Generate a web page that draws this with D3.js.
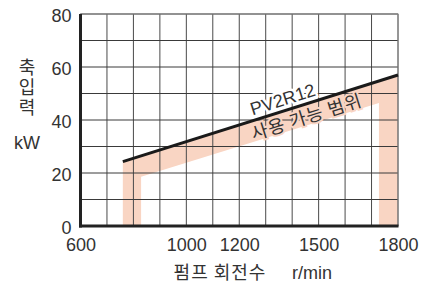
<!DOCTYPE html>
<html>
<head>
<meta charset="utf-8">
<script src="https://cdn.jsdelivr.net/npm/d3@7"></script>
<style>
  body { margin: 0; background: #fff; }
  svg { display: block; }
  .tick-label { font-family: "Liberation Sans", Arial, sans-serif; font-size: 18px; fill: #333; }
  .kr { font-family: "Noto Sans CJK KR", sans-serif; fill: #333; }
</style>
</head>
<body>
<div id="chart"></div>
<script>
// axis ranges and tick labels
const rpmDomain = [600, 1800];
const kwDomain = [0, 80];
const xTickValues = [600, 1000, 1200, 1500, 1800];
const yTickValues = [0, 20, 40, 60, 80];

// PV2R12 max power line (r/min, kW)
const lineRpm = [760, 1800];
const lineKw = [24.3, 57];

// usable range band (outline, r/min and kW)
const bandRpm = [760, 760, 1800, 1800, 1728, 1728, 829, 829];
const bandKw = [0, 24.3, 57, 0, 0, 46.4, 18.6, 0];

const width = 423;
const height = 285;
const marginTop = 14;
const marginRight = 25;
const marginBottom = 59;
const marginLeft = 80.5;

const x = d3.scaleLinear().domain(rpmDomain).range([marginLeft, width - marginRight]);
const y = d3.scaleLinear().domain(kwDomain).range([height - marginBottom, marginTop]);

const svg = d3
  .select("#chart")
  .append("svg")
  .attr("width", width)
  .attr("height", height)
  .attr("viewBox", [0, 0, width, height]);

// pink band
const band = bandRpm.map((r, i) => [x(r), y(bandKw[i])]);
svg
  .append("path")
  .attr("d", d3.line()(band) + "Z")
  .attr("fill", "#f9d5c3");

// grid
const gridX = d3.range(600, 1801, 100);
const gridY = d3.range(0, 81, 10);
svg
  .append("g")
  .attr("stroke", "#4a4a4a")
  .attr("stroke-width", 1)
  .selectAll("line")
  .data(gridX)
  .join("line")
  .attr("x1", (d) => x(d))
  .attr("x2", (d) => x(d))
  .attr("y1", y(80))
  .attr("y2", y(0));
svg
  .append("g")
  .attr("stroke", "#3a3a3a")
  .attr("stroke-width", 1)
  .selectAll("line")
  .data(gridY)
  .join("line")
  .attr("x1", x(600))
  .attr("x2", x(1800))
  .attr("y1", (d) => y(d))
  .attr("y2", (d) => y(d));

// border (top / right lighter)
svg
  .append("rect")
  .attr("x", x(600))
  .attr("y", y(80))
  .attr("width", x(1800) - x(600))
  .attr("height", y(0) - y(80))
  .attr("fill", "none")
  .attr("stroke", "#888")
  .attr("stroke-width", 1);

// left and bottom axes (thick)
svg
  .append("line")
  .attr("x1", x(600))
  .attr("x2", x(600))
  .attr("y1", y(80))
  .attr("y2", y(0) + 1.5)
  .attr("stroke", "#222")
  .attr("stroke-width", 3);
svg
  .append("line")
  .attr("x1", x(600) - 1.5)
  .attr("x2", x(1800) + 0.5)
  .attr("y1", y(0))
  .attr("y2", y(0))
  .attr("stroke", "#222")
  .attr("stroke-width", 3);

// tick labels via axes
svg
  .append("g")
  .attr("transform", `translate(${x(600)},0)`)
  .call(d3.axisLeft(y).tickValues(yTickValues).tickFormat(d3.format("d")).tickSize(0).tickPadding(9))
  .call((g) => g.select(".domain").remove())
  .call((g) =>
    g.selectAll("text").attr("class", "tick-label").attr("fill", null).attr("dy", "0.42em")
  );

svg
  .append("g")
  .attr("transform", `translate(0,${y(0)})`)
  .call(d3.axisBottom(x).tickValues(xTickValues).tickFormat(d3.format("d")).tickSize(0).tickPadding(12))
  .call((g) => g.select(".domain").remove())
  .call((g) => g.selectAll("text").attr("class", "tick-label").attr("fill", null));

// y axis title, written top to bottom
svg
  .append("text")
  .attr("class", "kr")
  .attr("font-size", 18)
  .attr("letter-spacing", 2)
  .attr("x", 27)
  .attr("y", 58)
  .attr("style", "writing-mode: vertical-rl; text-orientation: upright;")
  .text("축입력");
svg
  .append("text")
  .attr("class", "tick-label")
  .attr("x", 27)
  .attr("y", 149)
  .attr("text-anchor", "middle")
  .text("kW");

// x axis title
svg
  .append("text")
  .attr("class", "kr")
  .attr("font-size", 18)
  .attr("letter-spacing", 1)
  .attr("x", 220)
  .attr("y", 279)
  .attr("text-anchor", "middle")
  .text("펌프 회전수");
svg
  .append("text")
  .attr("class", "tick-label")
  .attr("x", 312)
  .attr("y", 279)
  .attr("text-anchor", "middle")
  .text("r/min");

// labels along the line
const angle =
  (Math.atan2(y(lineKw[1]) - y(lineKw[0]), x(lineRpm[1]) - x(lineRpm[0])) * 180) / Math.PI;
const kwAt = (r) =>
  lineKw[0] + ((lineKw[1] - lineKw[0]) * (r - lineRpm[0])) / (lineRpm[1] - lineRpm[0]);

svg
  .append("text")
  .attr("class", "tick-label")
  .attr("text-anchor", "middle")
  .attr("transform", `translate(${x(1377)},${y(kwAt(1377))}) rotate(${angle})`)
  .attr("y", -5)
  .attr("stroke", "#fff")
  .attr("stroke-width", 5)
  .attr("paint-order", "stroke")
  .text("PV2R12");

svg
  .append("text")
  .attr("class", "kr")
  .attr("font-size", 18)
  .attr("letter-spacing", 1)
  .attr("text-anchor", "middle")
  .attr("transform", `translate(${x(1440)},${y(kwAt(1440))}) rotate(${angle})`)
  .attr("y", 19)
  .attr("stroke", "#f9d5c3")
  .attr("stroke-width", 4)
  .attr("paint-order", "stroke")
  .text("사용 가능 범위");

// PV2R12 line
svg
  .append("path")
  .attr("d", d3.line()(lineRpm.map((r, i) => [x(r), y(lineKw[i])])))
  .attr("fill", "none")
  .attr("stroke", "#1a1a1a")
  .attr("stroke-width", 3);
</script>
</body>
</html>
